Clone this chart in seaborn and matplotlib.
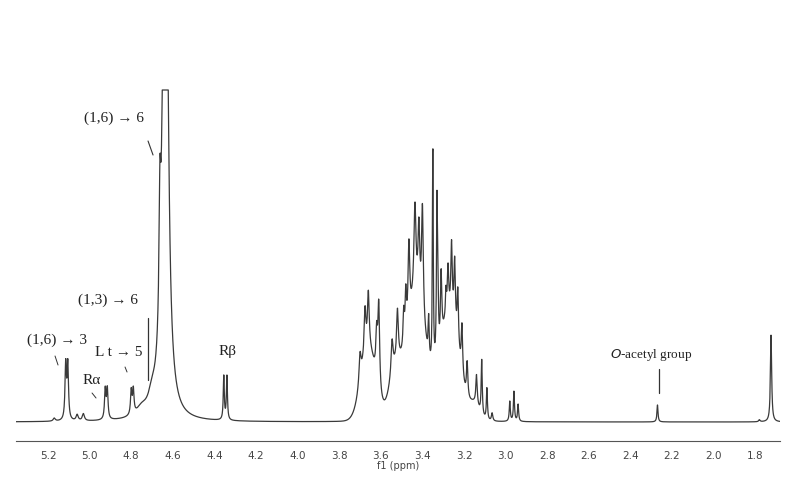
import numpy as np
import pandas as pd
import seaborn as sns
import matplotlib.pyplot as plt
from matplotlib.ticker import MultipleLocator

# peak list: shift (ppm), height (arb.), half width (ppm)
peak_ppm = [5.17, 5.115, 5.105, 5.06, 5.03, 4.925, 4.915, 4.80, 4.79, 4.75, 4.70,
            4.662, 4.636, 4.355, 4.34,
            3.70, 3.676, 3.66, 3.62, 3.61, 3.546, 3.52, 3.49, 3.48, 3.465, 3.436,
            3.417, 3.40, 3.37, 3.35, 3.33, 3.325, 3.31, 3.287, 3.277, 3.26, 3.245,
            3.23, 3.21, 3.185, 3.14, 3.115, 3.09, 3.065, 2.98, 2.96, 2.94,
            2.27, 1.78, 1.724]
peak_height = [3, 55, 55, 6, 7, 30, 30, 24, 24, 8, 14,
               120, 800, 44, 44,
               30, 45, 55, 45, 85, 35, 50, 35, 45, 80, 90,
               70, 110, 40, 220, 160, 40, 70, 25, 45, 70, 65,
               55, 50, 35, 30, 55, 32, 8, 20, 30, 17,
               17, 2, 87]
peak_width = [0.006, 0.004, 0.004, 0.006, 0.006, 0.004, 0.004, 0.004, 0.004, 0.03, 0.02,
              0.005, 0.012, 0.003, 0.003,
              0.006, 0.005, 0.005, 0.005, 0.005, 0.006, 0.005, 0.004, 0.004, 0.005, 0.006,
              0.005, 0.005, 0.003, 0.0025, 0.003, 0.003, 0.004, 0.003, 0.004, 0.004, 0.004,
              0.004, 0.004, 0.004, 0.004, 0.003, 0.003, 0.004, 0.003, 0.003, 0.003,
              0.003, 0.004, 0.0035]
# broad envelope under the 3.1-3.75 ppm sugar region
hump_ppm = [3.66, 3.53, 3.43, 3.27, 3.15]
hump_height = [70, 45, 120, 105, 15]
hump_width = [0.035, 0.03, 0.045, 0.045, 0.025]
clip_top = 332

ppm = np.linspace(5.36, 1.68, 6000)
inten = np.zeros_like(ppm)
for c, h, w in zip(peak_ppm, peak_height, peak_width):
    inten += h / (1 + ((ppm - c) / w) ** 2)
for c, h, w in zip(hump_ppm, hump_height, hump_width):
    inten += h * np.exp(-0.5 * ((ppm - c) / w) ** 2)
inten = np.minimum(inten, clip_top)
df = pd.DataFrame({"ppm": ppm, "intensity": inten})

sns.set_style("white")
plt.rcParams["font.family"] = ["DejaVu Sans"]

fig = plt.figure(figsize=(7.88, 4.79), dpi=100)
ax = fig.add_axes([16 / 788, 38 / 479, 764 / 788, 441 / 479])
sns.lineplot(data=df, x="ppm", y="intensity", ax=ax, color="#3a3a3a", linewidth=0.9)
ax.set_xlim(5.354, 1.681)
ax.set_ylim(-19, 422)
for s in ["left", "right", "top"]:
    ax.spines[s].set_visible(False)
ax.spines["bottom"].set_color("#555555")
ax.set_yticks([])
ax.set_ylabel("")
ax.xaxis.set_major_locator(MultipleLocator(0.2))
ax.xaxis.set_minor_locator(MultipleLocator(0.05))
ax.tick_params(axis="x", which="major", direction="inout", length=6, labelsize=7.5,
               colors="#444444", pad=4)
ax.tick_params(axis="x", which="minor", direction="inout", length=4, colors="#555555")
ax.set_xlabel("f1 (ppm)", fontsize=7, color="#444444", labelpad=0)

serif = dict(family="Liberation Serif", fontsize=11, color="#222222")

def px(x, y):
    return 5.2 - (x - 48) / 208, 422 - y

ax.text(*px(84, 118), "(1,6) → 6", va="center", **serif)
ax.plot(*zip(px(148, 141), px(153, 155)), color="#333333", lw=0.8)
ax.text(*px(78, 300), "(1,3) → 6", va="center", **serif)
ax.plot(*zip(px(148, 318), px(148, 380)), color="#333333", lw=0.9)
ax.text(*px(27, 340), "(1,6) → 3", va="center", **serif)
ax.plot(*zip(px(55, 356), px(58, 365)), color="#333333", lw=0.7)
ax.text(*px(95, 352), "L t → 5", va="center", **serif)
ax.plot(*zip(px(125, 367), px(127, 372)), color="#333333", lw=0.7)
ax.text(*px(82, 380), "Rα", va="center", **serif)
ax.plot(*zip(px(92, 393), px(96, 398)), color="#333333", lw=0.7)
ax.text(*px(218, 352), "Rβ", va="center", **serif)
ax.text(*px(610, 355), "$\\mathit{O}$-acetyl group", va="center",
        family="Liberation Serif", fontsize=9.5, color="#222222")
ax.plot(*zip(px(659, 369), px(659, 393)), color="#333333", lw=0.9)

fig.savefig("out.png", dpi=100)
